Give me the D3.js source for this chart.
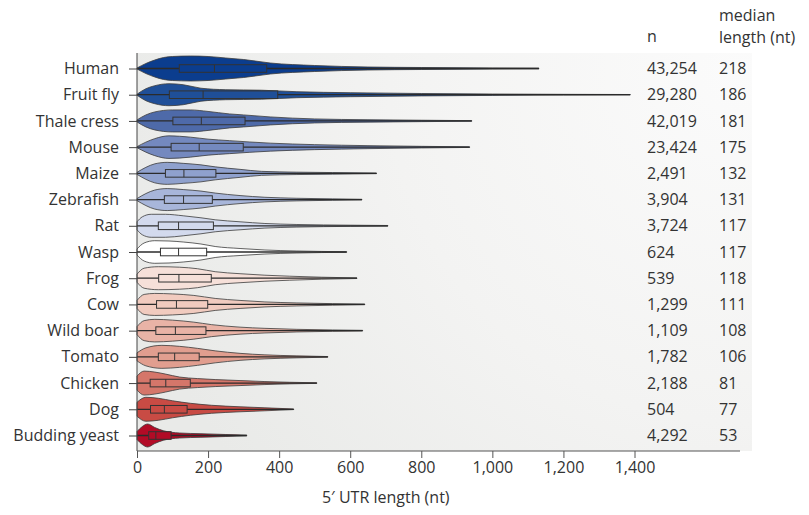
<!DOCTYPE html>
<html>
<head>
<meta charset="utf-8">
<script src="https://cdn.jsdelivr.net/npm/d3@7"></script>
<style>
  body { margin: 0; background: #fff; }
  svg { display: block; font-family: "Open Sans", sans-serif; }
  .lbl { fill: #333; font-size: 16px; }
</style>
</head>
<body>
<svg id="chart" width="809" height="515"></svg>
<script>
// species, top to bottom
var species = ['Human', 'Fruit fly', 'Thale cress', 'Mouse', 'Maize', 'Zebrafish', 'Rat', 'Wasp',
  'Frog', 'Cow', 'Wild boar', 'Tomato', 'Chicken', 'Dog', 'Budding yeast'];
var counts = ['43,254', '29,280', '42,019', '23,424', '2,491', '3,904', '3,724', '624',
  '539', '1,299', '1,109', '1,782', '2,188', '504', '4,292'];
var medians = [218, 186, 181, 175, 132, 131, 117, 117, 118, 111, 108, 106, 81, 77, 53];
var q1 = [119, 91, 101, 96, 80, 77, 60, 66, 61, 55, 53, 60, 37, 38, 33];
var q3 = [365, 396, 304, 299, 222, 212, 215, 196, 209, 199, 194, 175, 150, 141, 96];
var maxLen = [1131, 1388, 942, 936, 674, 633, 706, 590, 619, 641, 635, 537, 506, 441, 309];
var fills = ['#0b3d8e', '#1f4f98', '#4e6aa9', '#7489bf', '#8fa1cd', '#a8b6da', '#d3daed', '#ffffff',
  '#f6e0d9', '#f1cbbf', '#e9b3a6', '#e19e8f', '#d5766a', '#c84b44', '#b20b26'];

// violin outlines: lengths (nt) and half widths
var violinLen = [
  [0, 25, 50, 75, 100, 150, 200, 250, 300, 375, 500, 650, 800, 1000, 1131],
  [0, 25, 50, 90, 130, 180, 250, 350, 450, 600, 800, 1000, 1200, 1388],
  [0, 25, 50, 100, 150, 200, 260, 300, 375, 500, 650, 800, 942],
  [0, 25, 50, 90, 150, 200, 260, 375, 500, 650, 800, 936],
  [0, 25, 50, 85, 130, 180, 220, 290, 350, 450, 550, 674],
  [0, 25, 50, 85, 130, 180, 220, 290, 360, 450, 550, 633],
  [0, 15, 40, 80, 130, 180, 220, 290, 360, 450, 600, 706],
  [0, 20, 50, 90, 130, 180, 220, 290, 360, 450, 590],
  [0, 20, 60, 120, 170, 220, 290, 360, 430, 520, 619],
  [0, 20, 50, 100, 160, 220, 290, 360, 450, 550, 641],
  [0, 20, 50, 100, 160, 210, 290, 360, 450, 550, 635],
  [0, 25, 70, 120, 170, 220, 290, 360, 450, 537],
  [0, 20, 50, 80, 120, 170, 220, 290, 360, 430, 506],
  [0, 25, 60, 100, 150, 210, 290, 360, 441],
  [0, 15, 30, 50, 75, 120, 180, 250, 309]
];
var violinWidth = [
  [0.5, 5, 8.5, 11, 12, 12.5, 12, 10.5, 9, 5.5, 3, 1.5, 1, 0.5, 0.3],
  [0.5, 6, 9, 11, 10, 6.5, 5, 4.5, 3, 2, 1.2, 0.7, 0.4, 0.2],
  [1, 6, 9, 11, 11, 9.5, 7, 6, 4, 2, 1.2, 0.7, 0.3],
  [0.5, 5, 8.5, 11.3, 10, 8, 6.5, 4, 2.5, 1.5, 0.8, 0.3],
  [1, 6, 9.5, 11, 10, 8.5, 6.5, 4, 2, 1.2, 0.8, 0.3],
  [1, 6, 9.5, 11, 10, 8.5, 6.5, 4, 2.3, 1.3, 0.7, 0.3],
  [4, 9, 11.5, 11.5, 10, 8, 6, 4, 2.3, 1.3, 0.6, 0.3],
  [3, 9, 11.3, 11, 10, 8, 5.5, 3.5, 2, 1, 0.3],
  [4, 10, 11.5, 11, 9.5, 6.5, 4.5, 3, 2, 1, 0.3],
  [4, 10, 11, 10.5, 9, 6, 4, 2.5, 1.5, 0.8, 0.3],
  [4, 10, 11.3, 10.5, 8.5, 6, 3.5, 2.3, 1.3, 0.7, 0.3],
  [4, 9, 11.5, 10.5, 8.5, 6, 3.5, 2, 1, 0.3],
  [7, 12, 11, 9, 6, 4.5, 3.5, 2.5, 1.5, 0.8, 0.3],
  [7, 12, 11, 8.5, 6, 4, 2.5, 1.5, 0.3],
  [4, 9, 11.5, 8, 4.7, 2.5, 1.8, 1, 0.3]
];
var xTicks = [0, 200, 400, 600, 800, 1000, 1200, 1400];

var svg = d3.select('#chart');
var plot = {left: 137, right: 752, top: 53, bottom: 451};

//light panel behind the chart, brighter to the upper right
var grad = svg.append('defs').append('radialGradient')
  .attr('id', 'panelGrad')
  .attr('gradientUnits', 'userSpaceOnUse')
  .attr('cx', 740).attr('cy', 70).attr('r', 640);
grad.append('stop').attr('offset', 0).attr('stop-color', '#fbfbfb');
grad.append('stop').attr('offset', 0.55).attr('stop-color', '#f3f3f2');
grad.append('stop').attr('offset', 1).attr('stop-color', '#e9eae8');

svg.append('rect')
  .attr('x', plot.left).attr('y', plot.top)
  .attr('width', plot.right - plot.left).attr('height', plot.bottom - plot.top)
  .attr('fill', 'url(#panelGrad)');

//scales
var x = d3.scaleLinear().domain([0, 1400]).range([137, 634.5]);
var y = d3.scalePoint().domain(species).range([68.5, 435.5]);
var w = d3.scaleLinear().domain([0, 12.5]).range([0, 12.5]);

//violins
var rows = svg.append('g').selectAll('g.row')
  .data(species)
  .join('g')
  .attr('class', 'row')
  .attr('transform', function(d) { return 'translate(0,' + y(d) + ')'; });

rows.append('path')
  .attr('d', function(d, i) {
    var pts = violinLen[i].map(function(v, j) { return [v, violinWidth[i][j]]; });
    return d3.area()
      .x(function(p) { return x(p[0]); })
      .y0(function(p) { return -w(p[1]); })
      .y1(function(p) { return w(p[1]); })
      .curve(d3.curveMonotoneX)(pts);
  })
  .attr('fill', function(d, i) { return fills[i]; })
  .attr('stroke', '#3b3b3b')
  .attr('stroke-width', 0.8)
  .attr('stroke-linejoin', 'round');

//whisker line from 0 to the longest UTR
rows.append('line')
  .attr('x1', x(0)).attr('x2', function(d, i) { return x(maxLen[i]); })
  .attr('y1', 0).attr('y2', 0)
  .attr('stroke', '#2b2b2b')
  .attr('stroke-width', 1.3);

//box for the interquartile range
rows.append('rect')
  .attr('x', function(d, i) { return x(q1[i]); })
  .attr('y', -3.8)
  .attr('width', function(d, i) { return x(q3[i]) - x(q1[i]); })
  .attr('height', 7.6)
  .attr('fill', function(d, i) { return fills[i]; })
  .attr('stroke', '#333')
  .attr('stroke-width', 1);

rows.append('line')
  .attr('x1', function(d, i) { return x(medians[i]); })
  .attr('x2', function(d, i) { return x(medians[i]); })
  .attr('y1', -3.8).attr('y2', 3.8)
  .attr('stroke', '#333')
  .attr('stroke-width', 1);

//axes
var xAxis = d3.axisBottom(x).tickValues(xTicks).tickSize(7).tickPadding(4)
  .tickFormat(d3.format(','));
var gx = svg.append('g')
  .attr('transform', 'translate(0,' + plot.bottom + ')')
  .call(xAxis);
gx.select('.domain').attr('d', 'M' + plot.left + ',0H740').attr('stroke', '#555');
gx.selectAll('.tick line').attr('stroke', '#555');
gx.selectAll('.tick text').attr('fill', '#333')
  .style('font-size', '16px').style('font-family', '"Open Sans", sans-serif');

var yAxis = d3.axisLeft(y).tickSize(8).tickPadding(10);
var gy = svg.append('g')
  .attr('transform', 'translate(' + plot.left + ',0)')
  .call(yAxis);
gy.select('.domain').attr('d', 'M0,' + plot.top + 'V' + plot.bottom).attr('stroke', '#444');
gy.selectAll('.tick line').attr('stroke', '#444');
gy.selectAll('.tick text').attr('fill', '#333')
  .style('font-size', '16px').style('font-family', '"Open Sans", sans-serif');

svg.append('text')
  .attr('class', 'lbl')
  .attr('x', x(700)).attr('y', 503)
  .attr('text-anchor', 'middle')
  .text('5\u2032 UTR length (nt)');

//n and median columns
svg.append('text').attr('class', 'lbl').attr('x', 647).attr('y', 42).text('n');
svg.append('text').attr('class', 'lbl').attr('x', 719).attr('y', 21).text('median');
svg.append('text').attr('class', 'lbl').attr('x', 719).attr('y', 43).text('length (nt)');

rows.append('text')
  .attr('class', 'lbl')
  .attr('x', 647).attr('dy', '0.35em')
  .text(function(d, i) { return counts[i]; });
rows.append('text')
  .attr('class', 'lbl')
  .attr('x', 719).attr('dy', '0.35em')
  .text(function(d, i) { return medians[i]; });
</script>
</body>
</html>
